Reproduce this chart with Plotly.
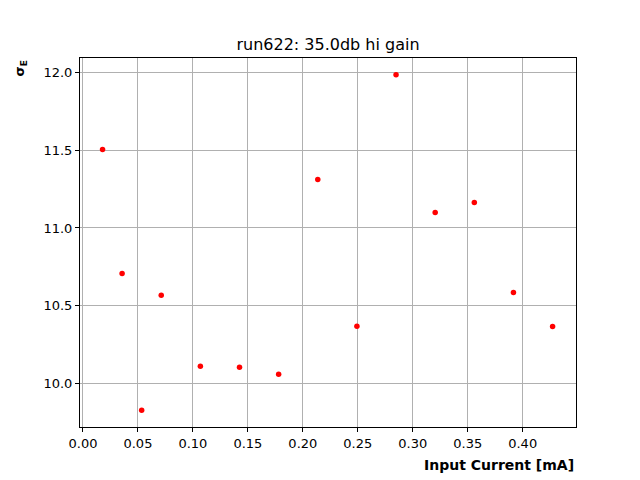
import plotly.graph_objects as go

current = [0.0178, 0.0356, 0.0534, 0.0712, 0.1068, 0.1424, 0.1780, 0.2136,
           0.2492, 0.2848, 0.3204, 0.3560, 0.3916, 0.4272]
sigma_e = [11.505, 10.707, 9.826, 10.566, 10.109, 10.103, 10.058, 11.312,
           10.367, 11.987, 11.100, 11.164, 10.585, 10.366]
x_ticks = [0.00, 0.05, 0.10, 0.15, 0.20, 0.25, 0.30, 0.35, 0.40]
y_ticks = [10.0, 10.5, 11.0, 11.5, 12.0]

fig = go.Figure(go.Scatter(x=current, y=sigma_e, mode="markers",
                           marker=dict(color="red", size=5.5)))

axis_common = dict(showgrid=True, gridcolor="#b0b0b0", gridwidth=1,
                   showline=True, linecolor="black", linewidth=1, mirror=True,
                   ticks="outside", ticklen=4, tickcolor="black", zeroline=False,
                   tickfont=dict(family="DejaVu Sans", size=13, color="black"))

fig.update_layout(
    width=640, height=480, showlegend=False,
    paper_bgcolor="white", plot_bgcolor="white",
    margin=dict(l=80, r=64, t=58, b=53),
    font=dict(family="DejaVu Sans", color="black"),
    title=dict(text="run622: 35.0db hi gain", xref="paper", x=0.5, xanchor="center",
               y=1 - 44/480, yanchor="middle", font=dict(size=16, color="black")),
    xaxis=dict(range=[-0.0027, 0.4485], tickvals=x_ticks,
               ticktext=[f"{v:.2f}" for v in x_ticks], **axis_common),
    yaxis=dict(range=[9.718, 12.095], tickvals=y_ticks,
               ticktext=[f"{v:.1f}" for v in y_ticks], **axis_common),
    annotations=[
        dict(text="<b>Input Current [mA]</b>", xref="paper", yref="paper",
             x=1, y=-0.076, xanchor="right", yanchor="top", showarrow=False,
             font=dict(size=14, color="black")),
        dict(text="<b>σ<sub>E</sub></b>", xref="paper", yref="paper",
             x=-0.099, y=1, xanchor="right", yanchor="top", textangle=-90,
             showarrow=False, font=dict(size=13, color="black")),
    ],
)

fig.write_html("out.html", config={"displayModeBar": False})
with open("out.html", "r", encoding="utf-8") as f:
    html = f.read()
html = html.replace("<body>", '<body style="margin:0;padding:0;">', 1)
with open("out.html", "w", encoding="utf-8") as f:
    f.write(html)
